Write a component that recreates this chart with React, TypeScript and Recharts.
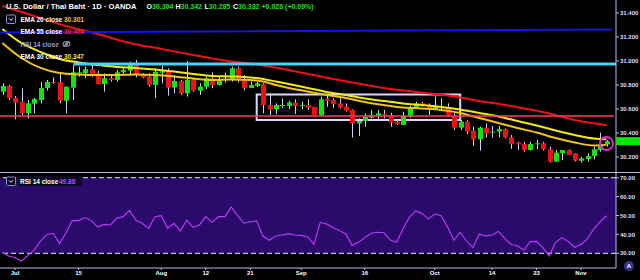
import React from 'react';
import { ComposedChart, Bar, Line, XAxis, YAxis, ReferenceLine, ReferenceArea, ReferenceDot } from 'recharts';

const opens = [30.744,30.792,30.694,30.658,30.564,30.644,30.675,30.775,30.825,30.825,
30.669,30.778,30.897,30.897,30.931,30.897,30.808,30.856,30.842,30.906,
30.919,30.975,30.892,30.869,30.800,30.903,30.911,30.778,30.833,30.731,
30.842,30.753,30.786,30.856,30.800,30.846,30.850,30.939,30.847,30.775,
30.792,30.806,30.633,30.597,30.628,30.625,30.653,30.628,30.633,30.617,
30.550,30.686,30.675,30.647,30.619,30.592,30.479,30.500,30.527,30.544,
30.561,30.550,30.494,30.467,30.536,30.611,30.647,30.633,30.597,30.625,
30.614,30.544,30.444,30.494,30.417,30.347,30.444,30.403,30.411,30.433,
30.364,30.319,30.308,30.258,30.311,30.314,30.264,30.161,30.231,30.258,
30.231,30.169,30.183,30.208,30.258,30.304];
const highs = [30.814,30.800,30.708,30.773,30.675,30.692,30.825,30.842,30.864,30.897,
30.786,30.967,30.953,30.953,30.967,30.917,30.897,30.883,30.925,30.944,
30.994,31.008,30.897,30.897,30.939,30.961,30.939,30.883,30.842,31.000,
30.856,30.814,30.869,30.906,30.869,30.903,30.953,30.953,30.883,30.828,
30.828,30.814,30.731,30.647,30.689,30.669,30.681,30.661,30.681,30.619,
30.703,30.717,30.689,30.689,30.647,30.597,30.522,30.563,30.592,30.592,
30.592,30.569,30.508,30.578,30.628,30.661,30.661,30.647,30.703,30.689,
30.647,30.564,30.508,30.508,30.453,30.453,30.481,30.458,30.458,30.439,
30.383,30.328,30.328,30.328,30.342,30.328,30.286,30.258,30.258,30.264,
30.231,30.203,30.231,30.286,30.403,30.342];
const lows = [30.717,30.675,30.514,30.550,30.522,30.564,30.647,30.753,30.808,30.647,
30.564,30.675,30.869,30.856,30.869,30.806,30.744,30.828,30.828,30.883,
30.883,30.864,30.856,30.786,30.689,30.814,30.711,30.731,30.717,30.703,
30.744,30.717,30.764,30.773,30.794,30.819,30.828,30.822,30.753,30.773,
30.783,30.564,30.550,30.556,30.606,30.597,30.558,30.597,30.592,30.547,
30.536,30.619,30.606,30.606,30.578,30.363,30.375,30.453,30.522,30.508,
30.522,30.453,30.467,30.467,30.527,30.600,30.619,30.550,30.592,30.592,
30.536,30.425,30.425,30.392,30.292,30.253,30.364,30.361,30.364,30.356,
30.267,30.258,30.244,30.253,30.264,30.253,30.153,30.161,30.175,30.214,
30.161,30.153,30.161,30.181,30.244,30.285];
const closes = [30.792,30.689,30.653,30.564,30.647,30.683,30.775,30.825,30.817,30.669,
30.786,30.906,30.906,30.931,30.883,30.808,30.856,30.842,30.906,30.925,
30.975,30.883,30.864,30.800,30.908,30.913,30.778,30.833,30.731,30.842,
30.753,30.786,30.856,30.800,30.847,30.852,30.939,30.850,30.773,30.800,
30.814,30.633,30.597,30.633,30.633,30.653,30.625,30.633,30.611,30.550,
30.681,30.669,30.642,30.614,30.586,30.481,30.500,30.536,30.550,30.564,
30.553,30.486,30.473,30.542,30.611,30.647,30.628,30.597,30.625,30.611,
30.544,30.444,30.494,30.411,30.347,30.444,30.397,30.411,30.433,30.364,
30.308,30.306,30.258,30.308,30.314,30.264,30.161,30.236,30.258,30.217,
30.169,30.189,30.208,30.264,30.306,30.332];

const rsiValues = [30.5,28.6,27.7,25.9,28.7,31.7,36.5,40,40.6,35.1,
40.6,47.3,47.3,48.9,47.3,43.9,45.3,45,48.5,49.4,
52.7,47.5,45.9,43.2,49.4,49.9,43.2,45.9,41.8,47.5,
43.7,45,49.4,46.4,49.4,49.4,54.5,49.9,45.9,46.7,
47.1,39,36.9,39.2,39.7,40.4,39.7,39.5,38.8,34.7,
46.4,45.5,43.7,42,40.2,34.2,35.8,38.3,40.6,41.1,
40.9,37,35.8,42.9,49,52.4,51.1,48.1,50.8,49.9,
44.1,36.9,41.1,36.5,33,40.2,39.2,39.7,41.6,37.9,
34.7,34,31.6,36.2,36.3,33,28.6,35.8,38.3,36.2,
33.2,34.7,37.6,42.9,46.7,49.88];

const ema55Idx = [0,5,10,15,20,25,30,35,40,45,50,55,60,65,70,75,80,85,90,95];
const ema55Vals = [31.458,31.375,31.292,31.225,31.150,31.100,31.050,31.004,30.971,30.925,30.871,30.821,30.775,30.742,30.712,30.667,30.625,30.575,30.508,30.464];
const emaIdx = [0,3,6,9,12,15,18,21,24,27,30,33,36,39,41,43,45,48,51,54,57,60,63,66,69,72,75,78,81,84,87,90,93,95];
const ema20Vals = [31.150,31.025,30.942,30.900,30.888,30.883,30.883,30.888,30.883,30.871,30.854,30.842,30.846,30.842,30.829,30.800,30.775,30.746,30.717,30.692,30.658,30.633,30.613,30.604,30.592,30.567,30.525,30.483,30.442,30.404,30.358,30.321,30.296,30.301];
const ema30Vals = [31.267,31.150,31.075,31.017,30.988,30.967,30.950,30.942,30.929,30.912,30.892,30.875,30.871,30.863,30.850,30.829,30.808,30.775,30.742,30.717,30.688,30.667,30.646,30.633,30.617,30.596,30.567,30.538,30.500,30.463,30.421,30.383,30.354,30.347];

const tickIdx = [2,12,25,32,39,47,57,68,77,84,91];
const tickLabels = ['Jul','15','Aug','12','21','Sep','16','Oct','14','23','Nov'];
const priceTicks = [30.2,30.4,30.6,30.8,31.0,31.2,31.4];
const rsiTicks = [30,40,50,60,70];

const blueLine = [31.2375, 31.2625];
const cyanLevel = 30.975;
const pinkLevel = 30.542;
const boxX = [40, 72];
const boxY = [30.508, 30.721];
const circleAt = { i: 95, p: 30.3125 };
const lastPrice = 30.332;

const X_MIN = -0.362;
const X_MAX = 96.5;
const FONT = "'Liberation Sans', Arial, sans-serif";
const GREEN = '#12e412';
const RED = '#ee1111';
const WICK = '#cfcff7';
const AXIS = '#b8b8ee';

const candles = opens.map((o, i) => ({ i, o, h: highs[i], l: lows[i], c: closes[i], range: [lows[i], highs[i]] }));
const rsiData = rsiValues.map((v, i) => ({ i, rsi: v }));
const ema55Data = ema55Idx.map((i, k) => ({ i, v: ema55Vals[k] }));
const ema20Data = emaIdx.map((i, k) => ({ i, v: ema20Vals[k] }));
const ema30Data = emaIdx.map((i, k) => ({ i, v: ema30Vals[k] }));

function CandleShape(props: any) {
  const { x, y, width, height, payload } = props;
  if (!payload || x == null) return null;
  const { o, h, l, c } = payload;
  const top = height >= 0 ? y : y + height;
  const hgt = Math.abs(height);
  const cx = Math.round(x + width / 2);
  const ppu = hgt / (h - l || 1);
  const yO = top + (h - o) * ppu;
  const yC = top + (h - c) * ppu;
  const bTop = Math.min(yO, yC);
  const bH = Math.max(1, Math.abs(yO - yC));
  const up = c >= o;
  return (
    <g>
      <line x1={cx + 0.5} x2={cx + 0.5} y1={top} y2={top + hgt} stroke={WICK} strokeWidth={1} />
      <rect x={cx - 2} y={bTop} width={5} height={bH} fill={up ? GREEN : RED} />
    </g>
  );
}

const PriceTag = (props: any) => {
  const { cx, cy } = props;
  if (cx == null) return null;
  return <rect x={cx} y={cy - 4} width={24} height={8} fill="#00e600" />;
};

const Checkbox = ({ x, y }: { x: number; y: number }) => (
  <g>
    <rect x={x} y={y} width={9} height={8.5} rx={1} fill="#06061a" stroke="#8f8fd8" strokeWidth={1} />
    <polyline points={`${x + 2.5},${y + 3.3} ${x + 4.5},${y + 5.3} ${x + 6.5},${y + 3.3}`} fill="none" stroke="#ffffff" strokeWidth={1} />
  </g>
);

export default function App() {
  return (
    <div style={{ position: 'absolute', left: 0, top: 0, width: 640, height: 280, background: '#000', overflow: 'hidden', fontFamily: FONT }}>
      <div style={{ position: 'absolute', left: 0, top: 0 }}>
        <ComposedChart width={640} height={172} data={candles} margin={{ top: 0, right: 0, bottom: 0, left: 0 }}>
          <XAxis type="number" dataKey="i" domain={[X_MIN, X_MAX]} hide allowDataOverflow />
          <YAxis
            orientation="right"
            width={24}
            domain={[30.075, 31.508]}
            allowDataOverflow
            ticks={priceTicks}
            interval={0}
            tickFormatter={(v: number) => v.toFixed(3)}
            tick={{ fill: '#dcdcff', fontSize: 6, fontWeight: 700 }}
            tickSize={3}
            tickMargin={1}
            axisLine={{ stroke: AXIS }}
            tickLine={{ stroke: AXIS }}
          />
          <Line data={ema55Data} dataKey="v" type="monotone" stroke="#f01010" strokeWidth={2} dot={false} activeDot={false} isAnimationActive={false} />
          <Line data={ema30Data} dataKey="v" type="monotone" stroke="#f3ea12" strokeWidth={2} dot={false} activeDot={false} isAnimationActive={false} />
          <Line data={ema20Data} dataKey="v" type="monotone" stroke="#f0c418" strokeWidth={2} dot={false} activeDot={false} isAnimationActive={false} />
          <Bar dataKey="range" barSize={5} shape={(p: any) => <CandleShape {...p} />} isAnimationActive={false} />
          <ReferenceLine segment={[{ x: X_MIN, y: blueLine[0] }, { x: 95.9, y: blueLine[1] }]} stroke="#1414e6" strokeWidth={2} />
          <ReferenceLine segment={[{ x: 11.2, y: cyanLevel }, { x: X_MAX, y: cyanLevel }]} stroke="#49d2f5" strokeWidth={3} />
          <ReferenceLine segment={[{ x: X_MIN, y: pinkLevel }, { x: 96.2, y: pinkLevel }]} stroke="#ff3a66" strokeWidth={1.5} />
          <ReferenceArea x1={boxX[0]} x2={boxX[1]} y1={boxY[0]} y2={boxY[1]} fill="none" fillOpacity={0} stroke="#ddd6ff" strokeWidth={2} />
          <ReferenceDot x={circleAt.i} y={circleAt.p} r={6.5} fill="none" stroke="#e51ee5" strokeWidth={2} />
          <ReferenceDot x={X_MAX} y={lastPrice} ifOverflow="visible" shape={(p: any) => <PriceTag {...p} />} />
        </ComposedChart>
      </div>
      <div style={{ position: 'absolute', left: 0, top: 172 }}>
        <ComposedChart width={640} height={108} data={rsiData} margin={{ top: 0, right: 0, bottom: 0, left: 0 }}>
          <XAxis
            type="number"
            dataKey="i"
            domain={[X_MIN, X_MAX]}
            allowDataOverflow
            ticks={tickIdx}
            interval={0}
            tickFormatter={(v: number) => tickLabels[tickIdx.indexOf(v)] ?? ''}
            height={12}
            tick={{ fill: '#ffffff', fontSize: 6, fontWeight: 700 }}
            tickSize={2}
            tickMargin={1}
            axisLine={{ stroke: AXIS }}
            tickLine={{ stroke: AXIS }}
          />
          <YAxis
            orientation="right"
            width={24}
            domain={[22.22, 73.02]}
            allowDataOverflow
            ticks={rsiTicks}
            interval={0}
            tickFormatter={(v: number) => v.toFixed(2)}
            tick={{ fill: '#dcdcff', fontSize: 6, fontWeight: 700 }}
            tickSize={3}
            tickMargin={1}
            axisLine={{ stroke: AXIS }}
            tickLine={{ stroke: AXIS }}
          />
          <ReferenceArea x1={X_MIN} x2={X_MAX} y1={30} y2={70} fill="#2a0b6c" fillOpacity={1} stroke="none" />
          <ReferenceLine y={70} stroke="#ececff" strokeDasharray="5 3" strokeWidth={1} />
          <ReferenceLine y={30} stroke="#ececff" strokeDasharray="5 3" strokeWidth={1} />
          <Line dataKey="rsi" type="linear" stroke="#c03cf8" strokeWidth={1.1} dot={false} activeDot={false} isAnimationActive={false} />
        </ComposedChart>
      </div>
      <div style={{ position: 'absolute', left: 0, top: 172, width: 640, height: 1, background: AXIS }} />
      <svg width={640} height={280} style={{ position: 'absolute', left: 0, top: 0, pointerEvents: 'none' }}>
        <text x={6} y={9.4} fontSize={7.6} fontWeight={700} fill="#ffffff">U.S. Dollar / Thai Baht · 1D · OANDA</text>
        <text y={9.4} fontSize={7} fontWeight={700}>
          <tspan x={146.5} fill="#ffffff">O</tspan><tspan fill={GREEN}>30.304</tspan>
          <tspan x={175.5} fill="#ffffff">H</tspan><tspan fill={GREEN}>30.342</tspan>
          <tspan x={204.5} fill="#ffffff">L</tspan><tspan fill={GREEN}>30.285</tspan>
          <tspan x={233} fill="#ffffff">C</tspan><tspan fill={GREEN}>30.332</tspan>
          <tspan x={261.5} fill={GREEN}>+0.028 (+0.09%)</tspan>
        </text>
        <Checkbox x={6.5} y={15} />
        <text x={20.5} y={21.5} fontSize={6.5} fontWeight={700} fill="#ffffff">EMA 20 close</text>
        <text x={64} y={21.5} fontSize={6.5} fontWeight={700} fill="#f2c01e">30.301</text>
        <text x={20.5} y={34.2} fontSize={6.5} fontWeight={700} fill="#ffffff">EMA 55 close</text>
        <text x={64} y={34.2} fontSize={6.5} fontWeight={700} fill="#ff2222">30.464</text>
        <text x={20.5} y={46.5} fontSize={6.5} fontWeight={700} fill="#9a9ad0">RSI 14 close</text>
        <g stroke="#c8c8e8" strokeWidth={0.9} fill="none">
          <ellipse cx={66.5} cy={44} rx={3.6} ry={2.4} />
          <circle cx={66.5} cy={44} r={1} />
          <line x1={63.5} y1={47} x2={69.5} y2={41} />
        </g>
        <text x={20.5} y={58.7} fontSize={6.5} fontWeight={700} fill="#ffffff">EMA 30 close</text>
        <text x={64} y={58.7} fontSize={6.5} fontWeight={700} fill="#f0ec1a">30.347</text>

        <Checkbox x={6.5} y={177} />
        <rect x={18} y={176} width={64} height={10} fill="#0b0b22" />
        <text x={20} y={183.5} fontSize={6.5} fontWeight={700} fill="#ffffff">RSI 14 close</text>
        <text x={59} y={183.5} fontSize={6.5} fontWeight={700} fill="#b84cff">49.88</text>

        <circle cx={629} cy={266} r={5} fill="#34348e" />
        <text x={629} y={268.3} fontSize={6} fontWeight={700} fill="#ffffff" textAnchor="middle">A</text>
      </svg>
    </div>
  );
}
